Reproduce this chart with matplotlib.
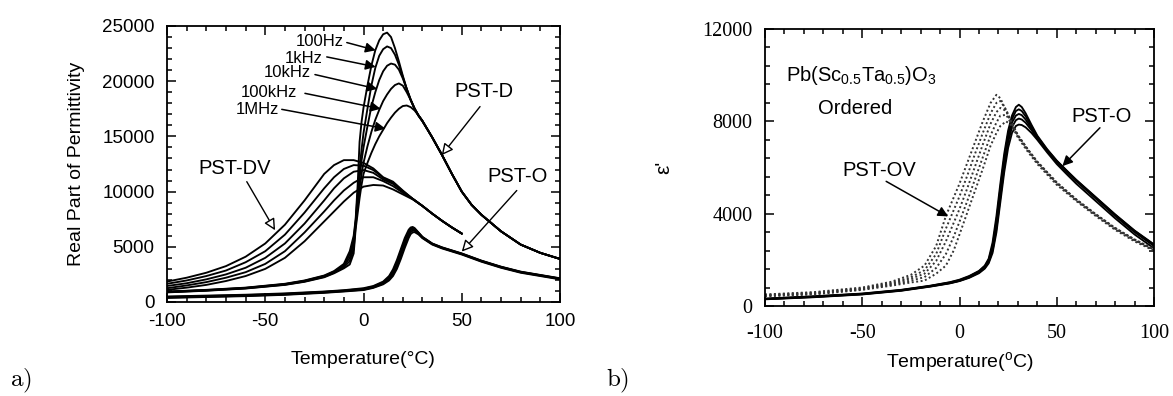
import numpy as np
import matplotlib
matplotlib.use("Agg")
import matplotlib.pyplot as plt
from matplotlib.ticker import MultipleLocator

plt.rcParams['font.family'] = ['Liberation Sans', 'DejaVu Sans']
plt.rcParams['mathtext.fontset'] = 'custom'
plt.rcParams['mathtext.rm'] = 'Liberation Sans'
plt.rcParams['mathtext.it'] = 'Liberation Sans:italic'
plt.rcParams['mathtext.bf'] = 'Liberation Sans:bold'
plt.rcParams['axes.unicode_minus'] = False

freq_labels = ['100Hz', '1kHz', '10kHz', '100kHz', '1MHz']

# ---------------- panel a (values in thousands) ----------------
a_D_T = [-100, -80, -60, -40, -30, -20, -15, -10, -7, -5, -4, -3, -2, -1, 0, 2, 4, 6, 8, 10,
         12, 14, 16, 18, 20, 22, 24, 26, 28, 30, 35, 40, 45, 50, 55, 60, 70, 80, 90, 100]
a_D_tail = [14.9, 13.3, 11.6, 10.0, 8.8, 7.9, 6.4, 5.2, 4.45, 3.9]
a_D_100Hz = [0.95, 1.1, 1.3, 1.65, 1.95, 2.4, 2.8, 3.45, 4.6, 6.0, 7.5, 10.5, 14.5, 16.3, 17.6, 19.6, 21.4, 22.8, 23.7, 24.25,
             24.4, 24.0, 23.0, 21.8, 20.5, 19.3, 18.3, 17.5, 16.9, 16.4] + a_D_tail
a_D_1kHz = [0.93, 1.08, 1.28, 1.62, 1.92, 2.36, 2.75, 3.35, 4.3, 5.6, 7.3, 9.8, 12.0, 13.8, 15.3, 17.5, 19.6, 21.2, 22.3, 22.9,
            23.15, 23.0, 22.4, 21.5, 20.4, 19.3, 18.3, 17.5, 16.9, 16.4] + a_D_tail
a_D_10kHz = [0.91, 1.06, 1.26, 1.6, 1.89, 2.32, 2.7, 3.25, 4.0, 5.2, 7.1, 9.2, 11.2, 12.8, 14.0, 15.9, 17.7, 19.0, 20.1, 20.9,
             21.4, 21.6, 21.5, 21.05, 20.25, 19.3, 18.35, 17.55, 16.9, 16.4] + a_D_tail
a_D_100kHz = [0.89, 1.04, 1.24, 1.57, 1.86, 2.28, 2.65, 3.15, 3.7, 4.8, 6.9, 8.6, 10.3, 11.6, 12.6, 14.1, 15.4, 16.5, 17.4, 18.2,
              18.8, 19.3, 19.65, 19.8, 19.6, 19.0, 18.3, 17.5, 16.85, 16.35] + a_D_tail
a_D_1MHz = [0.87, 1.02, 1.22, 1.55, 1.83, 2.24, 2.6, 3.05, 3.4, 4.4, 6.6, 8.0, 9.4, 10.6, 11.6, 12.6, 13.5, 14.3, 15.0, 15.6,
            16.2, 16.7, 17.15, 17.5, 17.75, 17.8, 17.65, 17.35, 16.9, 16.4] + a_D_tail
a_D_vals = [a_D_100Hz, a_D_1kHz, a_D_10kHz, a_D_100kHz, a_D_1MHz]

a_DV_T = [-100, -90, -80, -70, -60, -50, -40, -30, -20, -15, -10, -5, 0, 5, 10, 15, 20, 25, 30, 35, 40, 45, 50]
a_DV_vals = [
    [1.85, 2.2, 2.65, 3.25, 4.1, 5.3, 7.0, 9.2, 11.6, 12.4, 12.85, 12.85, 12.6, 12.1, 11.3, 10.9, 10.1, 9.35, 8.7, 8.0, 7.35, 6.75, 6.2],
    [1.65, 1.95, 2.35, 2.85, 3.6, 4.6, 6.1, 8.1, 10.3, 11.3, 12.05, 12.4, 12.35, 11.95, 11.25, 10.8, 10.05, 9.35, 8.7, 8.0, 7.35, 6.75, 6.2],
    [1.45, 1.7, 2.05, 2.5, 3.1, 4.0, 5.3, 7.1, 9.2, 10.3, 11.2, 11.8, 11.95, 11.7, 11.1, 10.7, 10.0, 9.35, 8.7, 8.0, 7.35, 6.75, 6.2],
    [1.25, 1.5, 1.8, 2.2, 2.7, 3.45, 4.6, 6.3, 8.2, 9.2, 10.1, 10.8, 11.3, 11.3, 10.95, 10.5, 9.9, 9.35, 8.7, 8.0, 7.35, 6.75, 6.2],
    [1.1, 1.3, 1.55, 1.9, 2.35, 3.0, 4.0, 5.5, 7.3, 8.2, 9.1, 9.9, 10.45, 10.6, 10.55, 10.2, 9.75, 9.3, 8.7, 8.0, 7.35, 6.75, 6.2],
]

a_O_T = [-100, -80, -60, -40, -20, -10, 0, 5, 10, 13, 15, 17, 19, 21, 23, 24, 25, 26, 28, 30, 35, 40, 50, 60, 70, 80, 90, 100]
a_O_vals = [
    [0.5, 0.58, 0.66, 0.78, 0.95, 1.07, 1.25, 1.45, 1.85, 2.35, 2.95, 3.8, 4.8, 5.8, 6.55, 6.75, 6.8, 6.7, 6.3, 5.9, 5.3, 4.95, 4.4, 3.75, 3.2, 2.75, 2.45, 2.15],
    [0.46, 0.54, 0.62, 0.74, 0.92, 1.04, 1.2, 1.4, 1.78, 2.25, 2.8, 3.6, 4.6, 5.6, 6.4, 6.63, 6.7, 6.63, 6.27, 5.88, 5.28, 4.93, 4.38, 3.73, 3.18, 2.73, 2.43, 2.13],
    [0.43, 0.51, 0.59, 0.71, 0.89, 1.01, 1.16, 1.36, 1.72, 2.15, 2.65, 3.4, 4.4, 5.4, 6.25, 6.5, 6.58, 6.55, 6.23, 5.85, 5.26, 4.91, 4.36, 3.71, 3.16, 2.71, 2.41, 2.11],
    [0.4, 0.48, 0.56, 0.68, 0.86, 0.98, 1.12, 1.32, 1.66, 2.05, 2.5, 3.2, 4.15, 5.15, 6.05, 6.35, 6.45, 6.45, 6.18, 5.82, 5.24, 4.89, 4.34, 3.69, 3.14, 2.69, 2.39, 2.09],
    [0.37, 0.45, 0.53, 0.65, 0.83, 0.95, 1.08, 1.28, 1.6, 1.95, 2.35, 3.0, 3.9, 4.9, 5.8, 6.15, 6.3, 6.33, 6.12, 5.78, 5.2, 4.85, 4.3, 3.65, 3.1, 2.65, 2.35, 2.05],
]

# ---------------- panel b (values in thousands) ----------------
b_O_T = [-100, -75, -50, -30, -15, -5, 0, 5, 10, 13, 15, 17, 19, 21, 23, 25, 27, 29, 30.5, 32, 34, 37, 40, 45, 50, 55, 60, 70, 80, 90, 100]
b_O_vals = [
    [0.32, 0.42, 0.54, 0.7, 0.88, 1.03, 1.14, 1.3, 1.52, 1.75, 2.05, 2.75, 3.9, 5.3, 6.6, 7.6, 8.25, 8.62, 8.72, 8.62, 8.35, 7.85, 7.38, 6.8, 6.3, 5.88, 5.47, 4.72, 3.97, 3.27, 2.67],
    [0.31, 0.41, 0.53, 0.69, 0.87, 1.02, 1.12, 1.28, 1.5, 1.72, 2.0, 2.6, 3.7, 5.1, 6.4, 7.45, 8.1, 8.45, 8.52, 8.45, 8.22, 7.78, 7.34, 6.77, 6.28, 5.86, 5.45, 4.7, 3.95, 3.25, 2.65],
    [0.3, 0.4, 0.52, 0.68, 0.86, 1.0, 1.1, 1.26, 1.47, 1.68, 1.95, 2.5, 3.5, 4.9, 6.2, 7.3, 7.95, 8.25, 8.32, 8.27, 8.08, 7.7, 7.3, 6.75, 6.26, 5.84, 5.43, 4.68, 3.93, 3.23, 2.63],
    [0.3, 0.39, 0.51, 0.67, 0.85, 0.99, 1.09, 1.24, 1.45, 1.65, 1.9, 2.4, 3.35, 4.7, 6.0, 7.1, 7.75, 8.05, 8.12, 8.08, 7.94, 7.62, 7.25, 6.72, 6.24, 5.82, 5.41, 4.66, 3.9, 3.2, 2.6],
    [0.29, 0.38, 0.5, 0.66, 0.84, 0.98, 1.08, 1.22, 1.42, 1.62, 1.85, 2.3, 3.2, 4.5, 5.8, 6.85, 7.5, 7.8, 7.86, 7.84, 7.74, 7.5, 7.2, 6.66, 6.15, 5.72, 5.3, 4.55, 3.8, 3.1, 2.5],
]

b_OV_T = [-100, -75, -50, -35, -25, -18, -12, -7, -3, 0, 4, 8, 12, 16, 19, 21, 24, 27, 30, 35, 40, 45, 50, 60, 70, 80, 90, 100]
b_OV_vals = [
    [0.5, 0.6, 0.8, 1.05, 1.35, 1.75, 2.6, 3.9, 4.7, 5.3, 6.2, 7.1, 8.0, 8.8, 9.15, 9.0, 8.45, 7.9, 7.4, 6.8, 6.25, 5.8, 5.35, 4.62, 3.98, 3.38, 2.88, 2.46],
    [0.48, 0.58, 0.77, 1.0, 1.25, 1.55, 2.25, 3.35, 4.15, 4.75, 5.65, 6.6, 7.5, 8.35, 8.8, 8.88, 8.5, 7.9, 7.4, 6.8, 6.25, 5.8, 5.35, 4.62, 3.98, 3.38, 2.88, 2.46],
    [0.46, 0.55, 0.74, 0.96, 1.18, 1.4, 1.95, 2.8, 3.6, 4.2, 5.1, 6.05, 7.0, 7.9, 8.4, 8.58, 8.45, 7.88, 7.38, 6.78, 6.23, 5.78, 5.33, 4.6, 3.96, 3.36, 2.86, 2.44],
    [0.44, 0.52, 0.72, 0.92, 1.1, 1.25, 1.65, 2.25, 3.0, 3.65, 4.55, 5.5, 6.45, 7.4, 7.95, 8.25, 8.28, 7.85, 7.35, 6.75, 6.2, 5.75, 5.3, 4.58, 3.94, 3.34, 2.84, 2.42],
    [0.42, 0.5, 0.7, 0.88, 1.02, 1.1, 1.4, 1.75, 2.4, 3.1, 4.05, 5.0, 5.95, 6.95, 7.5, 7.8, 8.0, 7.8, 7.3, 6.7, 6.15, 5.7, 5.25, 4.55, 3.9, 3.3, 2.8, 2.4],
]

x_ticks = [-100, -50, 0, 50, 100]
a_y_ticks = [0, 5000, 10000, 15000, 20000, 25000]
b_y_ticks = [0, 4000, 8000, 12000]

K = 1000.0
W, H = 1173, 396
fig = plt.figure(figsize=(W / 100, H / 100), dpi=100)


def box(l, t, r, b):
    return [l / W, 1 - b / H, (r - l) / W, (b - t) / H]


def style_axes(ax, xminor, yminor, padx, pady):
    ax.xaxis.set_minor_locator(MultipleLocator(xminor))
    ax.yaxis.set_minor_locator(MultipleLocator(yminor))
    ax.tick_params(which='both', direction='in', top=True, right=True, width=1.1)
    ax.tick_params(which='major', length=6.5)
    ax.tick_params(which='minor', length=3.5)
    ax.tick_params(axis='x', pad=padx)
    ax.tick_params(axis='y', pad=pady)
    for s in ax.spines.values():
        s.set_linewidth(1.3)


# ---------------- panel a ----------------
axa = fig.add_axes(box(167, 26, 560, 302))
lw = 1.35
for vals in a_D_vals:
    axa.plot(a_D_T, np.array(vals) * K, color='black', lw=lw)
for vals in a_DV_vals:
    axa.plot(a_DV_T, np.array(vals) * K, color='black', lw=lw)
for vals in a_O_vals:
    axa.plot(a_O_T, np.array(vals) * K, color='black', lw=lw)
axa.set_xlim(-100, 100)
axa.set_ylim(0, 25000)
axa.set_xticks(x_ticks)
axa.set_yticks(a_y_ticks)
style_axes(axa, 10, 1000, 8, 9)
for lab in axa.get_xticklabels() + axa.get_yticklabels():
    lab.set_fontsize(13.5)
axa.set_xlabel('Temperature(°C)', fontsize=14, labelpad=15)
axa.set_ylabel('Real Part of Permittivity', fontsize=14, labelpad=12)

# frequency labels with filled arrows
freq_text = [(-10.0, 23.6), (-20.8, 22.1), (-26.8, 20.8), (-33.6, 18.96), (-43.0, 17.4)]
freq_start = [(-8.5, 23.5), (-18.7, 22.2), (-24.7, 20.6), (-29.8, 18.9), (-41.6, 17.45)]
freq_tip = [(6.2, 22.8), (6.2, 21.3), (7.0, 19.3), (8.7, 17.5), (11.2, 15.7)]
for lab, (tx, ty), (sx, sy), (ex, ey) in zip(freq_labels, freq_text, freq_start, freq_tip):
    axa.text(tx, ty * K, lab, fontsize=12, ha='right', va='center')
    axa.annotate('', xy=(ex, ey * K), xytext=(sx, sy * K),
                 arrowprops=dict(arrowstyle='-|>', color='black', lw=1.1,
                                 mutation_scale=15, shrinkA=0, shrinkB=0))

hollow = dict(arrowstyle='-|>', fc='white', ec='black', lw=1.0,
              mutation_scale=17, shrinkA=0, shrinkB=0)
axa.text(-65.4, 12100, 'PST-DV', fontsize=14.5, ha='center', va='center')
axa.annotate('', xy=(-45, 6500), xytext=(-59.4, 10900), arrowprops=hollow)
axa.text(61.3, 19100, 'PST-D', fontsize=14.5, ha='center', va='center')
axa.annotate('', xy=(39.8, 13300), xytext=(59.3, 17700), arrowprops=hollow)
axa.text(78.3, 11400, 'PST-O', fontsize=14.5, ha='center', va='center')
axa.annotate('', xy=(50, 4560), xytext=(78, 10100), arrowprops=hollow)

# ---------------- panel b ----------------
axb = fig.add_axes(box(765, 29, 1154, 306))
for vals in b_O_vals:
    axb.plot(b_O_T, np.array(vals) * K, color='black', lw=1.35)
for vals in b_OV_vals:
    axb.plot(b_OV_T, np.array(vals) * K, color='#333333', lw=1.4, ls=(0, (1, 1.3)))
axb.set_xlim(-100, 100)
axb.set_ylim(0, 12000)
axb.set_xticks(x_ticks)
axb.set_yticks(b_y_ticks)
style_axes(axb, 10, 800, 13, 9)
for lab in axb.get_xticklabels() + axb.get_yticklabels():
    lab.set_fontsize(14.5)
    lab.set_family(['Liberation Serif', 'DejaVu Serif'])
axb.set_xlabel(r'Temperature($^{\rm o}$C)', fontsize=14, labelpad=5)
axb.set_ylabel("ε'", fontsize=15, labelpad=21)

axb.text(-89, 9750, r'Pb(Sc$_{0.5}$Ta$_{0.5}$)O$_3$', fontsize=14.5, ha='left', va='baseline')
axb.text(-73, 8570, 'Ordered', fontsize=14.5, ha='left', va='center')
solid = dict(arrowstyle='-|>', color='black', lw=1.1, mutation_scale=15, shrinkA=0, shrinkB=0)
axb.text(-41.2, 5880, 'PST-OV', fontsize=14.5, ha='center', va='center')
axb.annotate('', xy=(-5.8, 3880), xytext=(-37.7, 5400), arrowprops=solid)
axb.text(73.2, 8200, 'PST-O', fontsize=14.5, ha='center', va='center')
axb.annotate('', xy=(52.9, 6060), xytext=(72.2, 7720), arrowprops=solid)

# panel letters
fig.text(10 / W, 1 - 386 / H, r'$\mathrm{a)}$', fontsize=18, math_fontfamily='cm', ha='left', va='baseline')
fig.text(606 / W, 1 - 386 / H, r'$\mathrm{b)}$', fontsize=18, math_fontfamily='cm', ha='left', va='baseline')

fig.savefig('out.png', dpi=100)
